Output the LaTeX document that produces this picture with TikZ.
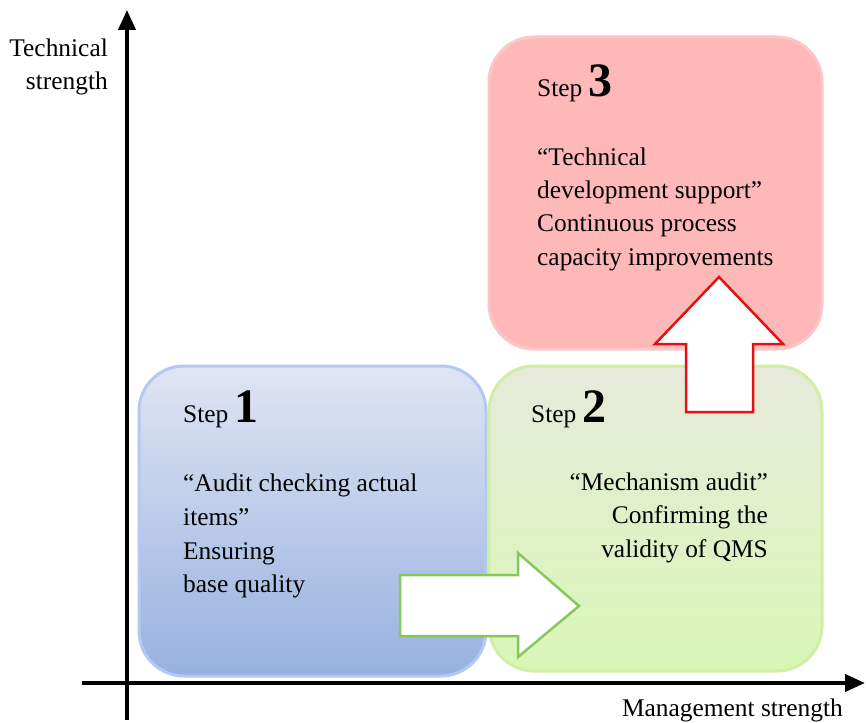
\documentclass[tikz,border=0pt]{standalone}
\usepackage{fontspec}
\setmainfont{Liberation Serif}
\usetikzlibrary{arrows.meta}

\definecolor{blueTop}{HTML}{DFE5F2}
\definecolor{blueBot}{HTML}{97B1E0}
\definecolor{blueLine}{HTML}{B3C9F3}
\definecolor{greenTop}{HTML}{E7EADB}
\definecolor{greenBot}{HTML}{D9F6B6}
\definecolor{greenLine}{HTML}{CFEFA3}
\definecolor{pinkFill}{HTML}{FEB8B8}
\definecolor{pinkLine}{HTML}{FCC6C6}
\definecolor{arrowGreen}{HTML}{86C95A}
\definecolor{arrowRed}{HTML}{E31212}

% large bold step number
\newcommand{\stepfig}{\fontsize{48}{48}\selectfont\bfseries}

\begin{document}
\begin{tikzpicture}[x=1pt,y=-1pt,
  axis/.style={line width=4pt,-{Triangle[length=20pt,width=17pt]}},
  stepbox/.style={rounded corners=45pt,line width=3pt},
  txt/.style={inner sep=0pt,font=\fontsize{25.4}{33}\selectfont},
  blockarrow/.style={fill=white,line width=2.5pt,line join=miter}]
\useasboundingbox (0,0) rectangle (866,722);

% axes
\draw[axis] (127,720) -- (127,10);
\draw[axis] (82,683) -- (865,683);

% the three step panels
\draw[stepbox,draw=blueLine,top color=blueTop,bottom color=blueBot]
  (139,366) rectangle (486,676);
\draw[stepbox,draw=greenLine,top color=greenTop,bottom color=greenBot]
  (489,366) rectangle (822,671);
\draw[stepbox,draw=pinkLine,fill=pinkFill]
  (489,37) rectangle (822,349);

% block arrows between the panels
\draw[blockarrow,draw=arrowGreen]
  (400,575) -- (518,575) -- (518,553) -- (579,606) -- (518,657)
  -- (518,636) -- (400,636) -- cycle;
\draw[blockarrow,draw=arrowRed]
  (686,412) -- (686,344) -- (655,344) -- (719,277) -- (783,344)
  -- (753,344) -- (753,412) -- cycle;

% axis titles
\node[txt,anchor=base east] (ytitle1) at (108,57) {Technical};
\node[txt,anchor=base east] (ytitle2) at (108,90) {strength};
\node[txt,anchor=base east] (xtitle) at (843,716) {Management strength};

% step 1
\node[txt,anchor=base west] (s1) at (183,422) {Step {\stepfig 1}};
\node[txt,anchor=base west] (s1a) at (183,491) {“Audit checking actual};
\node[txt,anchor=base west] (s1b) at (183,525) {items”};
\node[txt,anchor=base west] (s1c) at (183,559) {Ensuring};
\node[txt,anchor=base west] (s1d) at (183,592) {base quality};

% step 2
\node[txt,anchor=base west] (s2) at (531,422) {Step {\stepfig 2}};
\node[txt,anchor=base east] (s2a) at (768,490) {“Mechanism audit”};
\node[txt,anchor=base east] (s2b) at (768,523) {Confirming the};
\node[txt,anchor=base east] (s2c) at (768,557) {validity of QMS};

% step 3
\node[txt,anchor=base west] (s3) at (537,97) {Step {\stepfig 3}};
\node[txt,anchor=base west] (s3a) at (537,165) {“Technical};
\node[txt,anchor=base west] (s3b) at (537,198) {development support”};
\node[txt,anchor=base west] (s3c) at (537,231) {Continuous process};
\node[txt,anchor=base west] (s3d) at (537,265) {capacity improvements};
\end{tikzpicture}
\end{document}
